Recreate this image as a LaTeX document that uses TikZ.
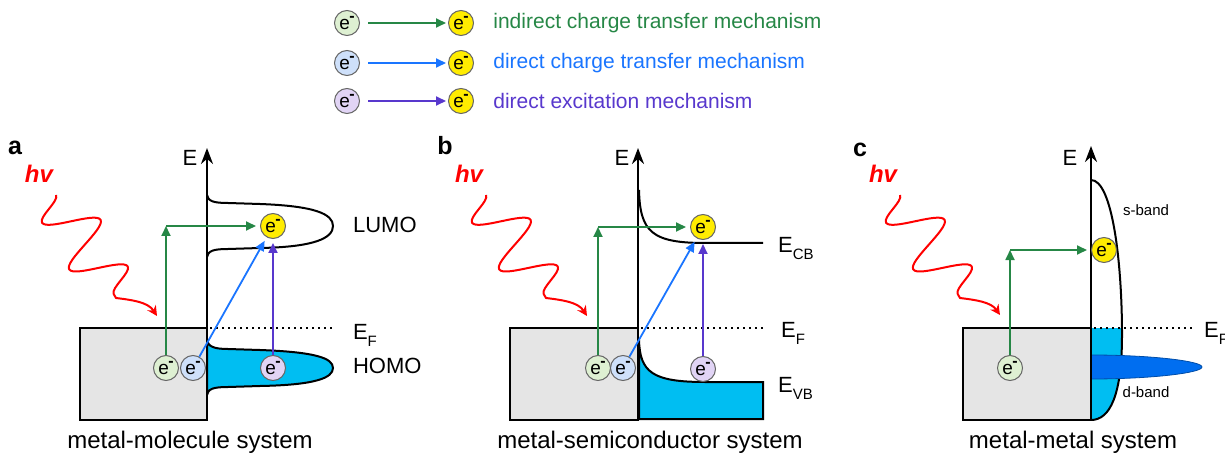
\documentclass[tikz,border=0pt]{standalone}
\usepackage{fontspec}
\setmainfont{Liberation Sans}
\usepackage{xcolor}
\usepackage{tikz}
\usetikzlibrary{arrows.meta,decorations.pathmorphing,positioning}

\definecolor{mgreen}{RGB}{38,135,70}
\definecolor{mblue}{RGB}{26,117,255}
\definecolor{mpurple}{RGB}{88,56,205}
\definecolor{egreen}{RGB}{222,240,210}
\definecolor{eblue}{RGB}{206,224,250}
\definecolor{epurple}{RGB}{225,212,245}
\definecolor{eyellow}{RGB}{255,236,0}
\definecolor{bandcyan}{RGB}{0,190,242}
\definecolor{dband}{RGB}{0,110,240}

\newcommand{\elc}{e\kern-0.3pt\raisebox{3.6pt}{\fontsize{8}{8}\selectfont\bfseries -}}
\newcommand{\Elev}[1]{E\raisebox{-3.5pt}{\fontsize{7.5}{7.5}\selectfont #1}}

\tikzset{
  elec/.style={circle, draw=black!60, line width=0.5pt, fill=#1, minimum size=12.5pt, inner sep=0pt, font=\fontsize{9.5}{9.5}\selectfont},
  trans/.style={draw=#1, line width=0.9pt, -{Triangle[length=5pt,width=4.5pt]}, shorten >=2pt},
  eaxis/.style={line width=1.2pt, -{Stealth[length=8pt,width=6pt]}},
  metal/.style={draw, line width=1pt, fill=black!10},
  photon/.style={draw=red, line width=1pt, -{Stealth[length=5pt,width=5pt]}, decoration={snake, amplitude=-13pt, segment length=27pt}},
  lvl/.style={font=\fontsize{11}{11}\selectfont, anchor=base west},
  caption/.style={font=\fontsize{12}{12}\selectfont, anchor=base},
  panel/.style={font=\fontsize{12.5}{12.5}\selectfont\bfseries},
  hv/.style={text=red, font=\fontsize{12}{12}\selectfont\bfseries\itshape},
  fermi/.style={line width=1pt, dotted},
  band/.style={line width=1pt}
}

\begin{document}
\begin{tikzpicture}[x=0.5pt, y=-0.5pt]
\useasboundingbox (0,0) rectangle (1225,454);

% legend
\foreach \y/\c/\f/\t [count=\i] in {23/mgreen/egreen/indirect charge transfer mechanism,
    63/mblue/eblue/direct charge transfer mechanism,
    101/mpurple/epurple/direct excitation mechanism}{
  \node[elec=\f] (l\i) at (347,\y) {\elc};
  \node[elec=eyellow] (r\i) at (461,\y) {\elc};
  \draw[trans=\c, shorten <=4pt, shorten >=1pt] (l\i) -- (r\i);
  \node[anchor=west, text=\c, font=\fontsize{10.5}{10.5}\selectfont, inner sep=0pt] (t\i) at (493,\y) {\t};
}

% (a) metal-molecule
\node[panel] (la) at (15,148) {a};
\node[hv] (hva) at (39,174) {hv};
\draw[photon] decorate {(56,195) -- (116,298)} .. controls (132,300) and (148,302) .. (157,316);
\draw[metal] (80,328) rectangle (207,420);
\draw[band] (207,195) .. controls (208,201) and (213,203) .. (228,203) -- (260,204)
  .. controls (315,206) and (333,214) .. (333,226) .. controls (333,238) and (315,247) .. (260,248)
  -- (228,249) .. controls (213,249) and (208,251) .. (207,257);
\draw[band, fill=bandcyan] (207,340) .. controls (208,346) and (213,349) .. (228,349) -- (260,350)
  .. controls (315,352) and (333,358) .. (333,368) .. controls (333,378) and (315,385) .. (260,386)
  -- (228,387) .. controls (213,387) and (208,389) .. (207,395) -- cycle;
\draw[fermi] (210,328) -- (333,328);
\draw[eaxis] (207,420) -- (207,148);
\node[font=\fontsize{11}{11}\selectfont] (ea) at (190,158) {E};
\node[lvl] (lumo) at (346,233) {LUMO};
\node[lvl] (efa) at (346,339) {\Elev{F}};
\node[lvl] (homo) at (346,373) {HOMO};
\node[elec=egreen] (ga) at (166,368) {\elc};
\node[elec=eblue] (ba) at (193,368) {\elc};
\node[elec=epurple] (pa) at (273,368) {\elc};
\node[elec=eyellow] (ya) at (273,226) {\elc};
\coordinate (ka) at (166,226);
\draw[trans=mgreen, shorten >=0pt] (ga) -- (ka);
\draw[trans=mgreen] (ka) -- (ya);
\draw[trans=mblue] (ba) -- (ya);
\draw[trans=mpurple] (pa) -- (ya);
\node[caption] (capa) at (190,448) {metal-molecule system};

% (b) metal-semiconductor
\node[panel] (lb) at (445,146) {b};
\node[hv] (hvb) at (469,174) {hv};
\draw[photon] decorate {(486,195) -- (546,298)} .. controls (562,300) and (578,302) .. (587,316);
\draw[metal] (510,328) rectangle (638,420);
\draw[band] (639,190) .. controls (640,232) and (652,243) .. (705,243) -- (763,243);
\draw[band, fill=bandcyan] (639,340) .. controls (640,372) and (652,382) .. (705,382)
  -- (763,382) -- (763,419) -- (639,419) -- cycle;
\draw[fermi] (641,328) -- (763,328);
\draw[eaxis] (638,420) -- (638,148);
\node[font=\fontsize{11}{11}\selectfont] (eb) at (622,158) {E};
\node[lvl] (ecb) at (771,252) {\Elev{CB}};
\node[lvl] (efb) at (774,337) {\Elev{F}};
\node[lvl] (evb) at (771,392) {\Elev{VB}};
\node[elec=egreen] (gb) at (598,368) {\elc};
\node[elec=eblue] (bb) at (623,368) {\elc};
\node[elec=epurple] (pb) at (703,369) {\elc};
\node[elec=eyellow] (yb) at (703,227) {\elc};
\coordinate (kb) at (598,227);
\draw[trans=mgreen, shorten >=0pt] (gb) -- (kb);
\draw[trans=mgreen] (kb) -- (yb);
\draw[trans=mblue] (bb) -- (yb);
\draw[trans=mpurple] (pb) -- (yb);
\node[caption] (capb) at (650,448) {metal-semiconductor system};

% (c) metal-metal
\node[panel] (lc) at (860,150) {c};
\node[hv] (hvc) at (883,174) {hv};
\draw[photon] decorate {(900,195) -- (960,298)} .. controls (976,300) and (991,302) .. (1000,315);
\draw[metal] (963,328) rectangle (1091,420);
\begin{scope}
  \clip (1091,328) rectangle (1130,421);
  \fill[bandcyan] (1091,180) .. controls (1112,180) and (1122,260) .. (1122,335)
    .. controls (1122,395) and (1110,420) .. (1091,420) -- cycle;
\end{scope}
\draw[band] (1091,180) .. controls (1112,180) and (1122,260) .. (1122,335)
  .. controls (1122,395) and (1110,420) .. (1091,420);
\draw[fill=dband, draw=dband!70!black, line width=0.4pt] (1091,355) .. controls (1150,355) and (1202,361) .. (1202,367)
  .. controls (1202,373) and (1150,379) .. (1091,379) -- cycle;
\draw[fermi] (1094,328) -- (1192,328);
\draw[eaxis] (1091,420) -- (1091,146);
\node[font=\fontsize{11}{11}\selectfont] (ec) at (1070,158) {E};
\node[lvl] (efc) at (1197,337) {\Elev{F}};
\node[font=\fontsize{7.5}{7.5}\selectfont] (sband) at (1146,210) {s-band};
\node[font=\fontsize{7.5}{7.5}\selectfont] (dbandl) at (1146,392) {d-band};
\node[elec=egreen] (gc) at (1010,368) {\elc};
\node[elec=eyellow] (yc) at (1104,250) {\elc};
\coordinate (kc) at (1010,250);
\draw[trans=mgreen, shorten >=0pt] (gc) -- (kc);
\draw[trans=mgreen] (kc) -- (yc);
\node[caption] (capc) at (1073,448) {metal-metal system};
\end{tikzpicture}
\end{document}
